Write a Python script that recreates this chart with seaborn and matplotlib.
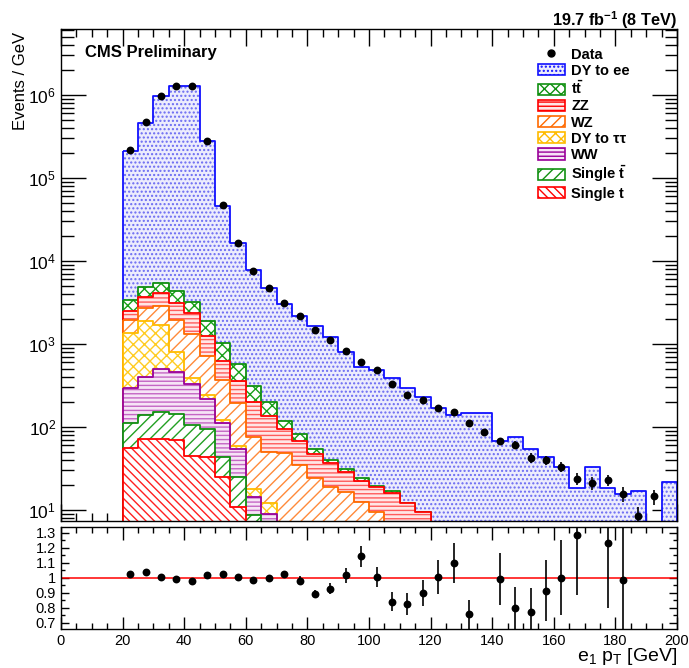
import numpy as np
import pandas as pd
import matplotlib
matplotlib.use("Agg")
import matplotlib.pyplot as plt
from matplotlib.patches import Patch
from matplotlib.lines import Line2D
from matplotlib.ticker import MultipleLocator, LogLocator, NullFormatter, FuncFormatter
import seaborn as sns

# ---------------------------------------------------------------- binning
bin_edges = list(range(20, 205, 5))          # leading electron pT bins [GeV]

# ---------------------------------------------------------------- expected events / GeV
dy_ee = [209610, 451180, 948520, 1265620, 1286820, 272108, 44962, 15931, 7435, 4501,
         2881, 2118, 1586, 1165, 779, 501, 466.3, 372, 286, 222.6,
         168, 138, 148, 148, 68, 76, 55, 44, 33, 18.6,
         32.6, 18.6, 15.8, 17, 0, 22]
ttbar = [870, 1170, 1400, 1290, 835, 644, 414, 211, 113, 62,
         25, 14, 7, 3, 2.6, 1.7, 1.0, 1.1, 0, 0,
         0, 0, 0, 0, 0, 0, 0, 0, 0, 0, 0, 0, 0, 0, 0, 0]
zz = [575, 960, 1210, 1145, 1045, 532, 256, 162, 126, 87,
      46, 33, 22.5, 18.3, 11.9, 9.8, 9.2, 15.9, 12, 9.4,
      0, 0, 0, 0, 0, 0, 0, 0, 0, 0, 0, 0, 0, 0, 0, 0]
wz = [585, 790, 1190, 1137, 914, 476, 247, 137, 58.2, 37.8,
      48, 35, 24.5, 18.7, 16.5, 12.5, 9.5, 0, 0, 0,
      0, 0, 0, 0, 0, 0, 0, 0, 0, 0, 0, 0, 0, 0, 0, 0]
dy_tautau = [1068, 1503, 1176, 348, 56, 25, 8, 5, 3.6, 3.2,
             0, 0, 0, 0, 0, 0, 0, 0, 0, 0,
             0, 0, 0, 0, 0, 0, 0, 0, 0, 0, 0, 0, 0, 0, 0, 0]
ww = [181, 257, 354, 315, 225, 121, 69, 29, 5.4, 9.0,
      0, 0, 0, 0, 0, 0, 0, 0, 0, 0,
      0, 0, 0, 0, 0, 0, 0, 0, 0, 0, 0, 0, 0, 0, 0, 0]
single_tbar = [55, 69, 79, 75, 60, 50, 19, 14, 8.8, 0,
               0, 0, 0, 0, 0, 0, 0, 0, 0, 0,
               0, 0, 0, 0, 0, 0, 0, 0, 0, 0, 0, 0, 0, 0, 0, 0]
single_t = [56, 71, 71, 70, 45, 44, 25, 11, 0, 0,
            0, 0, 0, 0, 0, 0, 0, 0, 0, 0,
            0, 0, 0, 0, 0, 0, 0, 0, 0, 0, 0, 0, 0, 0, 0, 0]

# ---------------------------------------------------------------- observed events / GeV
data = [2.19e5, 4.74e5, 9.61e5, 1.259e6, 1.267e6, 2.80e5, 4.72e4, 1.665e4, 7626, 4691,
        3087, 2160, 1465, 1117, 826, 601, 490, 328, 246, 209,
        169, 152, 112, 86, 67.7, 61, 42.5, 40.3, 33, 23.9,
        21.3, 22.9, 15.6, 8.5, 14.6, 0]
data_err = [600, 900, 1300, 1500, 1500, 700, 300, 150, 90, 70,
            60, 50, 40, 32, 26, 22, 20, 16, 14, 13,
            12, 11, 9.5, 8.5, 6.8, 6.5, 5.5, 5.0, 4.4, 4.1,
            3.9, 3.5, 3.2, 2.4, 3.0, 0]
# uncertainty on data / MC
ratio_err = [0.004, 0.004, 0.003, 0.003, 0.003, 0.004, 0.006, 0.008, 0.01, 0.012,
             0.018, 0.03, 0.028, 0.037, 0.05, 0.07, 0.068, 0.066, 0.074, 0.087,
             0.113, 0.133, 0.095, 0.15, 0.173, 0.14, 0.16, 0.205, 0.25, 0.40,
             0.2, 0.43, 0.5, 0.3, 0, 0]

# ---------------------------------------------------------------- style
sns.set_theme(style="ticks")
plt.rcParams.update({
    "font.family": ["Liberation Sans", "DejaVu Sans"],
    "mathtext.fontset": "custom",
    "mathtext.rm": "Liberation Sans",
    "mathtext.bf": "Liberation Sans:bold",
    "mathtext.it": "Liberation Sans:italic",
    "hatch.linewidth": 1.0,
    "axes.linewidth": 1.0,
    "axes.edgecolor": "black",
    "text.color": "black",
    "axes.labelcolor": "black",
    "xtick.color": "black",
    "ytick.color": "black",
})

edges = np.asarray(bin_edges, dtype=float)
centers = 0.5 * (edges[:-1] + edges[1:])

# name, values, legend label, fill colour, hatch colour, line colour, hatch
processes = [
    ("DY to ee", dy_ee, "DY to ee", "#ececfd", "#6a6af2", "#1010ff", "...."),
    ("ttbar", ttbar, r"t$\mathbf{\bar{t}}$", "white", "#18a018", "#109010", "xxx"),
    ("ZZ", zz, "ZZ", "#ffe6e6", "#ff5c5c", "#ff0000", "----"),
    ("WZ", wz, "WZ", "white", "#ff8a3a", "#ff6a00", "///"),
    ("DY to tautau", dy_tautau, "DY to \u03c4\u03c4", "white", "#ffcc22", "#ffbb00", "xxx"),
    ("WW", ww, "WW", "#f6e4f6", "#c466c4", "#990099", "----"),
    ("Single tbar", single_tbar, r"Single $\mathbf{\bar{t}}$", "white", "#22a022", "#119011", "///"),
    ("Single t", single_t, "Single t", "white", "#ff2020", "#ff0000", "\\\\\\\\"),
]

# cumulative stack, built from the bottom up
running = np.zeros(len(centers))
cumulative = {}
for name, vals, *_ in processes[::-1]:
    running = running + np.asarray(vals, dtype=float)
    cumulative[name] = running.copy()
mc_total = running

fig = plt.figure(figsize=(6.89, 6.68), dpi=100)
ax = fig.add_axes([0.0885, 0.22, 0.894, 0.7366])
rax = fig.add_axes([0.0885, 0.0584, 0.894, 0.1527])
ax.set_yscale("log")

floor = 1e-3
for name, vals, label, face, hcol, lcol, hatch in processes:
    frame = pd.DataFrame({"pt": centers,
                          "w": np.where(cumulative[name] > 0, cumulative[name], floor)})
    # hatched fill
    sns.histplot(data=frame, x="pt", weights="w", bins=bin_edges, element="step",
                 fill=True, ax=ax, color=face, legend=False)
    fill = ax.collections[-1]
    fill.set_alpha(1.0)
    fill.set_facecolor(face)
    fill.set_edgecolor(hcol)
    fill.set_hatch(hatch)
    fill.set_linewidth(0)
    # outline
    sns.histplot(data=frame, x="pt", weights="w", bins=bin_edges, element="step",
                 fill=True, ax=ax, color=lcol, legend=False)
    edge = ax.collections[-1]
    edge.set_alpha(1.0)
    edge.set_facecolor("none")
    edge.set_edgecolor(lcol)
    edge.set_linewidth(1.3)

# data points
data_arr = np.asarray(data, dtype=float)
derr = np.asarray(data_err, dtype=float)
m = data_arr > 0
ax.errorbar(centers[m], data_arr[m], yerr=derr[m], fmt="none", ecolor="black",
            elinewidth=1.2, capsize=0, zorder=5)
sns.scatterplot(x=centers[m], y=data_arr[m], ax=ax, color="black", s=32,
                edgecolor="black", linewidth=0, zorder=6, legend=False)

ax.set_xlim(0, 200)
ax.set_ylim(7.37, 6.2e6)
ax.set_xlabel("")
ax.set_ylabel("Events / GeV", fontsize=12, loc="top")
ax.yaxis.set_label_coords(-0.054, 0.994)

ax.xaxis.set_major_locator(MultipleLocator(20))
ax.xaxis.set_minor_locator(MultipleLocator(5))
ax.yaxis.set_major_locator(LogLocator(base=10, numticks=20))
ax.yaxis.set_minor_locator(LogLocator(base=10, subs=np.arange(2, 10), numticks=20))
ax.yaxis.set_minor_formatter(NullFormatter())
ax.tick_params(axis="x", which="both", direction="in", top=True, bottom=True,
               labelbottom=False)
ax.tick_params(axis="x", which="major", length=12, width=1)
ax.tick_params(axis="x", which="minor", length=6, width=1)
ax.tick_params(axis="y", which="both", direction="in", left=True, right=True,
               labelsize=12.5)
ax.tick_params(axis="y", which="major", length=18, width=1)
ax.tick_params(axis="y", which="minor", length=9, width=1)

# labels on the main pad
ax.text(0.039, 0.953, "CMS Preliminary", transform=ax.transAxes, fontsize=12,
        fontweight="bold", ha="left", va="center")
fig.text(0.9826, 0.970, r"19.7 fb$^{\mathbf{-1}}$ (8 TeV)", fontsize=11.7,
         fontweight="bold", ha="right", va="center")

handles = [Line2D([], [], marker="o", color="black", linestyle="none", markersize=5)]
labels = ["Data"]
for name, vals, label, face, hcol, lcol, hatch in processes:
    handles.append(Patch(facecolor=face, edgecolor=lcol, hatch=hatch, linewidth=1.2))
    labels.append(label)
leg = ax.legend(handles, labels, loc="upper left", bbox_to_anchor=(0.774, 0.962),
                frameon=False, prop={"weight": "bold", "size": 10.5},
                handlelength=1.85, handleheight=0.8, labelspacing=0.15,
                handletextpad=0.45, borderaxespad=0.0, borderpad=0.0)

# ---------------------------------------------------------------- ratio pad
ratio = np.full(len(centers), np.nan)
ok = (mc_total > 0) & (data_arr > 0)
ratio[ok] = data_arr[ok] / mc_total[ok]
rerr = np.asarray(ratio_err, dtype=float)
show = ok & (ratio > 0.66) & (ratio < 1.34)

rax.axhline(1.0, color="red", lw=1.1, zorder=2)
rax.errorbar(centers[show], ratio[show], yerr=rerr[show], fmt="none", ecolor="black",
             elinewidth=1.2, capsize=0, zorder=4)
sns.scatterplot(x=centers[show], y=ratio[show], ax=rax, color="black", s=32,
                linewidth=0, zorder=5, legend=False)
rax.set_xlim(0, 200)
rax.set_ylim(0.66, 1.34)
rax.yaxis.set_major_locator(MultipleLocator(0.1))
rax.yaxis.set_minor_locator(MultipleLocator(0.05))
rax.yaxis.set_major_formatter(FuncFormatter(lambda v, p: f"{v:g}" if 0.65 < v < 1.35 else ""))
rax.xaxis.set_major_locator(MultipleLocator(20))
rax.xaxis.set_minor_locator(MultipleLocator(5))
rax.tick_params(axis="both", which="both", direction="in", top=True, right=True,
                labelsize=10.5)
rax.tick_params(axis="x", which="major", length=9, width=1)
rax.tick_params(axis="x", which="minor", length=4.5, width=1)
rax.tick_params(axis="y", which="major", length=6, width=1)
rax.tick_params(axis="y", which="minor", length=3, width=1)
rax.set_ylabel("")
rax.set_xlabel(r"e$_{\rm 1}$ p$_{\rm T}$ [GeV]", fontsize=14, loc="right")
rax.xaxis.set_label_coords(1.0, -0.17)

fig.savefig("out.png", dpi=100)
